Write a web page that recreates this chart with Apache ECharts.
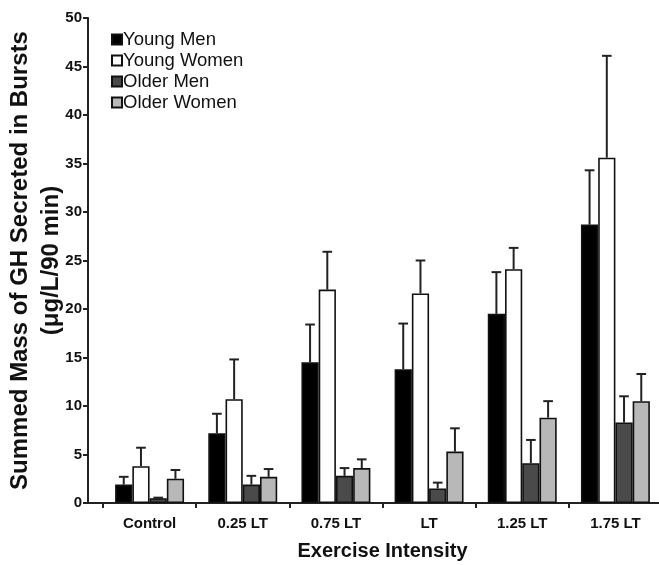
<!DOCTYPE html>
<html><head><meta charset="utf-8">
<script src="https://cdn.jsdelivr.net/npm/echarts@6/dist/echarts.min.js"></script>
<style>html,body{margin:0;padding:0;background:#fff}#c{width:659px;height:565px}</style>
</head><body><div id="c"></div>
<script>
const categories = ['Control', '0.25 LT', '0.75 LT', 'LT', '1.25 LT', '1.75 LT'];
const seriesNames = ['Young Men', 'Young Women', 'Older Men', 'Older Women'];
const youngMen = [1.9, 7.2, 14.5, 13.8, 19.5, 28.7];
const youngMenErr = [2.7, 9.2, 18.4, 18.5, 23.8, 34.3];
const youngWomen = [3.8, 10.7, 22.0, 21.6, 24.1, 35.6];
const youngWomenErr = [5.7, 14.8, 25.9, 25.0, 26.3, 46.1];
const olderMen = [0.5, 1.9, 2.8, 1.5, 4.1, 8.3];
const olderMenErr = [0.55, 2.8, 3.6, 2.1, 6.5, 11.0];
const olderWomen = [2.5, 2.7, 3.6, 5.3, 8.8, 10.5];
const olderWomenErr = [3.4, 3.5, 4.5, 7.7, 10.5, 13.3];
const yMin = 0, yMax = 50, yInterval = 5;

const values = [youngMen, youngWomen, olderMen, olderWomen];
const errs = [youngMenErr, youngWomenErr, olderMenErr, olderWomenErr];
const colors = ['#000000', '#ffffff', '#4a4a4a', '#b8b8b8'];
const catGap = 0.26;
const FONT = 'Liberation Sans, Arial, sans-serif';

const chart = echarts.init(document.getElementById('c'), null, {renderer: 'canvas'});

const barSeries = seriesNames.map((n, i) => ({
  name: n, type: 'bar', xAxisIndex: 1, yAxisIndex: 1,
  data: values[i], barGap: '0%', barCategoryGap: (catGap * 100) + '%',
  itemStyle: {color: colors[i], borderColor: '#111', borderWidth: 1.6},
  emphasis: {disabled: true}, z: 3
}));

const errSeries = seriesNames.map((n, i) => ({
  name: n + ' err', type: 'custom', xAxisIndex: 1, yAxisIndex: 1,
  data: values[i].map((v, k) => [k, v, errs[i][k]]),
  z: 2, silent: true,
  renderItem: function (params, api) {
    const k = api.value(0);
    const base = api.coord([k, api.value(1)]);
    const top = api.coord([k, api.value(2)]);
    const band = api.size([1, 0])[0];
    const bw = band * (1 - catGap) / 4;
    const x = base[0] + (i - 1.5) * bw;
    const cap = bw * 0.28;
    const st = {stroke: '#222', lineWidth: 2};
    return {type: 'group', children: [
      {type: 'line', shape: {x1: x, y1: base[1], x2: x, y2: top[1]}, style: st},
      {type: 'line', shape: {x1: x - cap, y1: top[1], x2: x + cap, y2: top[1]}, style: st}
    ]};
  }
}));

chart.setOption({
  animation: false,
  backgroundColor: '#fff',
  legend: {
    data: seriesNames, orient: 'vertical', left: 106, top: 25,
    icon: 'rect', itemWidth: 10, itemHeight: 10, itemGap: 2,
    textStyle: {fontFamily: FONT, fontSize: 18.5, color: '#111', padding: [0, 0, 0, -4]}
  },
  grid: [
    {left: 88, top: 18, width: 571, bottom: 62, outerBoundsMode: 'none', containLabel: false},
    {left: 103, top: 18, width: 559, bottom: 62, outerBoundsMode: 'none', containLabel: false}
  ],
  xAxis: [
    {gridIndex: 0, type: 'value', min: 0, max: 1,
     axisLine: {show: true, onZero: false, lineStyle: {color: '#222', width: 2}},
     axisTick: {show: false}, axisLabel: {show: false}, splitLine: {show: false}},
    {gridIndex: 1, type: 'category', data: categories,
     axisLine: {show: false},
     axisTick: {show: true, length: 5, lineStyle: {color: '#222', width: 2}},
     axisLabel: {fontFamily: FONT, fontWeight: 'bold', fontSize: 15, color: '#111', margin: 13},
     name: 'Exercise Intensity', nameLocation: 'middle', nameGap: 38, nameMoveOverlap: false,
     nameTextStyle: {fontFamily: FONT, fontWeight: 'bold', fontSize: 20, color: '#111'}}
  ],
  yAxis: [
    {gridIndex: 0, type: 'value', min: yMin, max: yMax, interval: yInterval,
     axisLine: {show: true, lineStyle: {color: '#222', width: 2}},
     axisTick: {show: true, length: 5, lineStyle: {color: '#222', width: 2}},
     axisLabel: {fontFamily: FONT, fontWeight: 'bold', fontSize: 15, color: '#111', margin: 6},
     splitLine: {show: false},
     name: 'Summed Mass of GH Secreted in Bursts\n(\u03bcg/L/90 min)',
     nameLocation: 'middle', nameRotate: 90, nameGap: 21, nameMoveOverlap: false,
     nameTextStyle: {fontFamily: FONT, fontWeight: 'bold', fontSize: 24, color: '#111', lineHeight: 31}},
    {gridIndex: 1, type: 'value', min: yMin, max: yMax, interval: yInterval, show: false}
  ],
  series: barSeries.concat(errSeries)
});
</script></body></html>
